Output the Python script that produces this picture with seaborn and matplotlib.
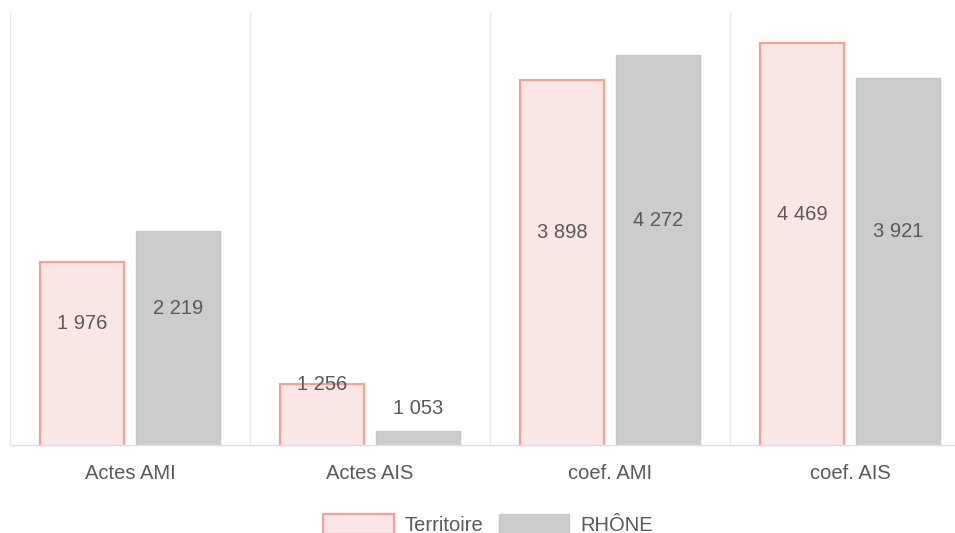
import numpy as np
import pandas as pd
import seaborn as sns
import matplotlib.pyplot as plt

# data
categories = ["Actes AMI", "Actes AIS", "coef. AMI", "coef. AIS"]
territoire = [1976, 1256, 3898, 4469]
rhone = [2219, 1053, 4272, 3921]
series_names = ["Territoire", "RHÔNE"]

df = pd.DataFrame({
    "cat": categories * 2,
    "val": territoire + rhone,
    "serie": [series_names[0]] * 4 + [series_names[1]] * 4,
})

sns.set_theme(style="white")
plt.rcParams["font.family"] = ["Liberation Sans", "DejaVu Sans"]

fill = {"Territoire": "#fde4e1", "RHÔNE": "#cccccc"}
edge = {"Territoire": "#f5a195", "RHÔNE": "#c6c6c6"}
lw = {"Territoire": 1.6, "RHÔNE": 1.0}
txt_color = "#595959"
fs = 14.5

fig = plt.figure(figsize=(9.55, 5.33), dpi=100)
W, H = 955, 533
ax = fig.add_axes([10 / W, (H - 445) / H, 945 / W, 432 / H])

sns.barplot(data=df, x="cat", y="val", hue="serie", palette=fill,
            width=0.8, gap=0.115, log_scale=True, ax=ax, legend=False)

for cont, name in zip(ax.containers, series_names):
    for p in cont:
        p.set_edgecolor(edge[name])
        p.set_linewidth(lw[name])

# value labels, placed a bit above the middle of each bar
for cont in ax.containers:
    for p in cont:
        v = p.get_height()
        xc = p.get_x() + p.get_width() / 2
        ym = np.sqrt(1000 * v)
        ax.annotate(f"{int(round(v)):,}".replace(",", " "), xy=(xc, ym),
                    xytext=(0, 21.5), textcoords="offset points",
                    ha="center", va="center", fontsize=fs, color=txt_color)

# axes styling
for s in ["top", "right", "left"]:
    ax.spines[s].set_visible(False)
ax.spines["bottom"].set_color("#e0e0e0")
ax.spines["bottom"].set_linewidth(1.0)
ax.set_yscale("log")
ax.set_yticks([])
ax.yaxis.set_minor_locator(plt.NullLocator())
ax.set_xlabel("")
ax.set_ylabel("")
ax.set_xticks(range(len(categories)))
ax.set_xticklabels(categories)
ax.set_xticks([-0.5, 0.5, 1.5, 2.5], minor=True)
ax.tick_params(axis="x", which="major", length=0, pad=13.8, labelsize=fs,
               labelcolor=txt_color)
ax.tick_params(axis="x", which="minor", length=12.5, width=1, color="#e8e8e8",
               direction="out")
ax.grid(True, axis="x", which="minor", color="#e8e8e8", linewidth=1)
ax.grid(False, axis="y")
ax.set_axisbelow(True)
ax.set_ylim(1000, 5000)
ax.set_xlim(-0.5, -0.5 + 945 / 240)

leg = ax.legend(ax.containers, series_names, loc="center", ncol=2,
                bbox_to_anchor=(488 / W, 8.5 / H), bbox_transform=fig.transFigure,
                frameon=False, fontsize=fs, handlelength=3.5, handleheight=1.1,
                handletextpad=0.55, columnspacing=0.75)
for t in leg.get_texts():
    t.set_color(txt_color)

fig.savefig("out.png", dpi=100, facecolor="white")
